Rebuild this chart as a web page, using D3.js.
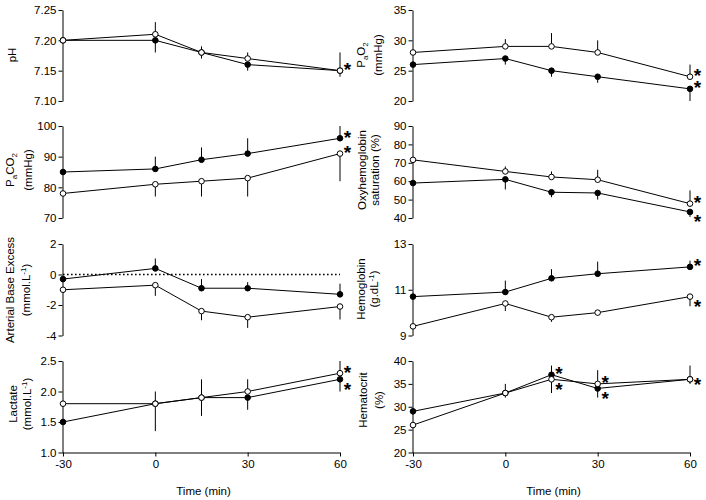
<!DOCTYPE html>
<html><head><meta charset="utf-8">
<script src="https://cdn.jsdelivr.net/npm/d3@7"></script>
<style>body{margin:0;background:#fff} svg{display:block} text{font-family:"Liberation Sans",Arial,sans-serif}</style>
</head><body><svg id="c" width="706" height="500"></svg>
<script>
// ---- data ----
const times = [-30, 0, 15, 30, 60];
const xTicks = [-30, 0, 30, 60];

const phTicks = [7.10, 7.15, 7.20, 7.25];
const phFilled = [7.20, 7.20, 7.18, 7.16, 7.15];
const phFilledErr = [0, -0.02, -0.01, -0.01, -0.01];
const phOpen = [7.20, 7.21, 7.18, 7.17, 7.15];
const phOpenErr = [0, 0.02, 0.01, 0.01, 0.03];
const phStars = [["open", 60, "up"]];

const pao2Ticks = [20, 25, 30, 35];
const pao2Filled = [26, 27, 25, 24, 22];
const pao2FilledErr = [0, -1, -1, -1, -2];
const pao2Open = [28, 29, 29, 28, 24];
const pao2OpenErr = [0, 1.2, 2.2, 2, 2];
const pao2Stars = [["open", 60, "up"], ["filled", 60, "up"]];

const paco2Ticks = [70, 80, 90, 100];
const paco2Filled = [85, 86, 89, 91, 96];
const paco2FilledErr = [0, 4, 4, 5, 4];
const paco2Open = [78, 81, 82, 83, 91];
const paco2OpenErr = [0, -4, -5, -6, -9];
const paco2Stars = [["filled", 60, "up"], ["open", 60, "up"]];

const oxyTicks = [40, 50, 60, 70, 80, 90];
const oxyFilled = [59, 61, 54, 53.6, 43.3];
const oxyFilledErr = [0, -5.5, -2.7, -3.6, -2.7];
const oxyOpen = [71.6, 65.3, 62.3, 60.8, 47.8];
const oxyOpenErr = [0, 2.7, 3, 5.4, 7.2];
const oxyStars = [["open", 60, "up"], ["filled", 60, "down"]];

const abeTicks = [-4, -2, 0, 2];
const abeFilled = [-0.3, 0.4, -0.9, -0.9, -1.3];
const abeFilledErr = [0, 0.65, 0.6, 0.4, 0.7];
const abeOpen = [-1.0, -0.7, -2.4, -2.8, -2.1];
const abeOpenErr = [0, -0.7, -0.6, -0.7, -0.85];
const abeStars = [];

const hbTicks = [9, 11, 13];
const hbFilled = [10.7, 10.9, 11.5, 11.7, 12.0];
const hbFilledErr = [0, 0.5, 0.4, 0.53, 0.27];
const hbOpen = [9.4, 10.4, 9.8, 10.0, 10.7];
const hbOpenErr = [0, -0.33, -0.2, -0.1, -0.42];
const hbStars = [["filled", 60, "up"], ["open", 60, "down"]];

const lacTicks = [1.0, 1.5, 2.0, 2.5];
const lacFilled = [1.5, 1.8, 1.9, 1.9, 2.2];
const lacFilledErr = [0, -0.45, -0.3, -0.2, -0.2];
const lacOpen = [1.8, 1.8, 1.9, 2.0, 2.3];
const lacOpenErr = [0, 0.2, 0.3, 0.2, 0.2];
const lacStars = [["open", 60, "up"], ["filled", 60, "down"]];

const hctTicks = [20, 25, 30, 35, 40];
const hctFilled = [29, 33, 37, 34, 36];
const hctFilledErr = [0, -1, 2, -2, -1];
const hctOpen = [26, 33, 36, 35, 36];
const hctOpenErr = [0, 2, -3, 3, 3];
const hctStars = [["filled", 15, "up"], ["open", 15, "down"], ["open", 30, "up"], ["filled", 30, "down"], ["open", 60, "mid"]];

// ---- layout ----
const svg = d3.select('#c');
const cols = {L: {axis: 62.5, range: [63, 340]}, R: {axis: 412.5, range: [413, 690]}};
const rows = [[101, 10], [218, 126], [335.5, 244], [452.5, 361]];
const FS = 11.5;

const panels = [
  {col: 'L', row: 0, dom: [7.10, 7.25], ticks: phTicks, fmt: '.2f', f: phFilled, fe: phFilledErr, o: phOpen, oe: phOpenErr, stars: phStars,
   label: [[["pH", ""]]], labX: [12], labY: 55},
  {col: 'R', row: 0, dom: [20, 35], ticks: pao2Ticks, fmt: 'd', f: pao2Filled, fe: pao2FilledErr, o: pao2Open, oe: pao2OpenErr, stars: pao2Stars,
   label: [[["P", ""], ["a", "sub"], ["O", ""], ["2", "sub"]], [["(mmHg)", ""]]], labX: [361, 378], labY: 55},
  {col: 'L', row: 1, dom: [70, 100], ticks: paco2Ticks, fmt: 'd', f: paco2Filled, fe: paco2FilledErr, o: paco2Open, oe: paco2OpenErr, stars: paco2Stars,
   label: [[["P", ""], ["a", "sub"], ["CO", ""], ["2", "sub"]], [["(mmHg)", ""]]], labX: [10, 28], labY: 170},
  {col: 'R', row: 1, dom: [40, 90], ticks: oxyTicks, fmt: 'd', f: oxyFilled, fe: oxyFilledErr, o: oxyOpen, oe: oxyOpenErr, stars: oxyStars,
   label: [[["Oxyhemoglobin", ""]], [["saturation (%)", ""]]], labX: [362, 375], labY: 170},
  {col: 'L', row: 2, dom: [-4, 2], ticks: abeTicks, fmt: 'd', f: abeFilled, fe: abeFilledErr, o: abeOpen, oe: abeOpenErr, stars: abeStars, zero: true,
   label: [[["Arterial Base Excess", ""]], [["(mmol.L", ""], ["-1", "sup"], [")", ""]]], labX: [10, 26], labY: 290},
  {col: 'R', row: 2, dom: [9, 13], ticks: hbTicks, fmt: 'd', f: hbFilled, fe: hbFilledErr, o: hbOpen, oe: hbOpenErr, stars: hbStars,
   label: [[["Hemoglobin", ""]], [["(g.dL", ""], ["-1", "sup"], [")", ""]]], labX: [361, 374], labY: 289},
  {col: 'L', row: 3, dom: [1.0, 2.5], ticks: lacTicks, fmt: '.1f', f: lacFilled, fe: lacFilledErr, o: lacOpen, oe: lacOpenErr, stars: lacStars, xaxis: true,
   label: [[["Lactate", ""]], [["(mmol.L", ""], ["-1", "sup"], [")", ""]]], labX: [13, 27], labY: 404},
  {col: 'R', row: 3, dom: [20, 40], ticks: hctTicks, fmt: 'd', f: hctFilled, fe: hctFilledErr, o: hctOpen, oe: hctOpenErr, stars: hctStars, xaxis: true,
   label: [[["Hematocrit", ""]], [["(%)", ""]]], labX: [363, 379], labY: 400}
];

const FONT = '"Liberation Sans", Arial, sans-serif';
const fmtHy = f => d => d3.format(f)(d).replace('\u2212', '-');

function styleAxis(g) {
  g.attr('font-family', FONT).attr('font-size', FS);
  g.selectAll('path.domain').attr('stroke', '#000').attr('stroke-width', 1);
  g.selectAll('.tick line').attr('stroke', '#000').attr('stroke-width', 1);
  g.selectAll('.tick text').attr('fill', '#000');
}

panels.forEach(p => {
  const c = cols[p.col];
  const x = d3.scaleLinear().domain([-30, 60]).range(c.range);
  const y = d3.scaleLinear().domain(p.dom).range(rows[p.row]);
  const g = svg.append('g');

  // y axis
  const ya = g.append('g').attr('transform', `translate(${c.axis},0)`)
    .call(d3.axisLeft(y).tickValues(p.ticks).tickSize(4).tickPadding(2).tickSizeOuter(0).tickFormat(fmtHy(p.fmt)));
  styleAxis(ya);

  if (p.xaxis) {
    const xa = g.append('g').attr('transform', `translate(0,${rows[p.row][0]})`)
      .call(d3.axisBottom(x).tickValues(xTicks).tickSize(4).tickPadding(3).tickSizeOuter(0).tickFormat(fmtHy('d')));
    xa.select('path.domain').attr('d', `M${c.axis},0.5H${c.range[1]}`);
    styleAxis(xa);
    g.append('text').attr('x', (c.range[0] + c.range[1]) / 2 + 2).attr('y', 495)
      .attr('text-anchor', 'middle').attr('font-family', FONT).attr('font-size', FS).text('Time (min)');
  }

  if (p.zero) {
    g.append('line').attr('x1', c.range[0]).attr('x2', c.range[1]).attr('y1', y(0)).attr('y2', y(0))
      .attr('stroke', '#000').attr('stroke-width', 1.6).attr('stroke-dasharray', '1.6,2.4');
  }

  // y label
  p.label.forEach((line, i) => {
    const t = g.append('text').attr('transform', `translate(${p.labX[i] + 4},${p.labY}) rotate(-90)`)
      .attr('text-anchor', 'middle').attr('font-family', FONT).attr('font-size', FS);
    let shift = 0;
    line.forEach(([s, kind]) => {
      const target = kind === 'sub' ? 3 : kind === 'sup' ? -4 : 0;
      t.append('tspan').attr('dy', target - shift).attr('font-size', kind ? 8 : FS).text(s);
      shift = target;
    });
  });

  const series = [
    {v: p.f, e: p.fe, fill: '#000', key: 'filled'},
    {v: p.o, e: p.oe, fill: '#fff', key: 'open'}
  ];
  const line = d3.line().x((d, i) => x(times[i])).y(d => y(d));

  // error bars
  series.forEach(s => {
    g.selectAll(null).data(s.v.map((v, i) => ({t: times[i], v, e: s.e[i]})).filter(d => d.e !== 0))
      .join('line')
      .attr('x1', d => x(d.t)).attr('x2', d => x(d.t))
      .attr('y1', d => y(d.v)).attr('y2', d => y(d.v + d.e))
      .attr('stroke', '#000').attr('stroke-width', 1);
  });
  // lines
  series.forEach(s => {
    g.append('path').attr('d', line(s.v)).attr('fill', 'none').attr('stroke', '#000').attr('stroke-width', 1);
  });
  // markers
  series.forEach(s => {
    g.selectAll(null).data(s.v.map((v, i) => ({t: times[i], v})))
      .join('circle')
      .attr('cx', d => x(d.t)).attr('cy', d => y(d.v)).attr('r', 2.8)
      .attr('fill', s.fill).attr('stroke', '#000').attr('stroke-width', 1);
  });
  // significance stars
  const off = {up: -6, down: 5, mid: 0};
  p.stars.forEach(([key, t, side]) => {
    const vals = key === 'filled' ? p.f : p.o;
    const v = vals[times.indexOf(t)];
    const cy = y(v) + off[side];
    g.append('text').attr('x', x(t) + 7.5).attr('y', cy + 0.6 * 19)
      .attr('text-anchor', 'middle').attr('font-family', FONT).attr('font-weight', 'bold')
      .attr('font-size', 19).text('*');
  });
});
</script></body></html>
